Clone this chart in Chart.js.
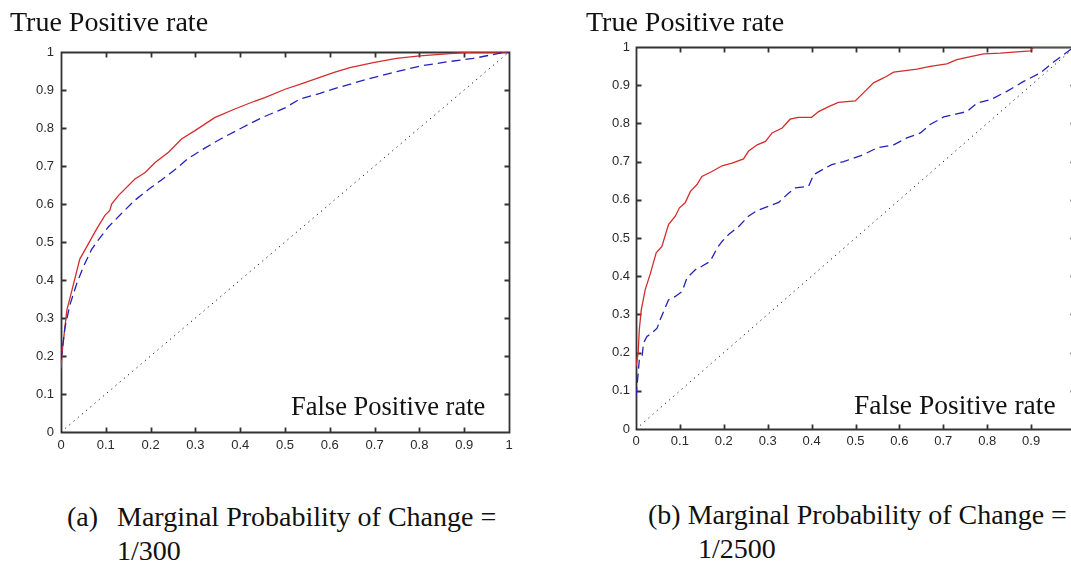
<!DOCTYPE html>
<html>
<head>
<meta charset="utf-8">
<script src="https://cdn.jsdelivr.net/npm/chart.js@4.4.1/dist/chart.umd.min.js"></script>
<style>
  html, body { margin: 0; padding: 0; background: #fff; }
  body { width: 1071px; height: 567px; overflow: hidden; position: relative; }
  canvas { position: absolute; top: 0; }
  #rocA { left: 0; }
  #rocB { left: 560px; }
  .lbl {
    position: absolute; white-space: pre; line-height: 1;
    font-family: "Liberation Serif", "DejaVu Serif", serif; color: #111;
  }
</style>
</head>
<body>
<canvas id="rocA" width="540" height="470"></canvas>
<canvas id="rocB" width="560" height="470"></canvas>

<div class="lbl" style="left:10px; top:8px; font-size:28px;">True Positive rate</div>
<div class="lbl" style="left:586px; top:7.5px; font-size:28px;">True Positive rate</div>
<div class="lbl" style="left:291px; top:393px; font-size:26.5px;">False Positive rate</div>
<div class="lbl" style="left:854px; top:391px; font-size:27.5px;">False Positive rate</div>

<div class="lbl" style="left:67px; top:502.5px; font-size:28px;">(a)</div>
<div class="lbl" style="left:117px; top:502.5px; font-size:28px;">Marginal Probability of Change =</div>
<div class="lbl" style="left:117px; top:536.5px; font-size:28px;">1/300</div>

<div class="lbl" style="left:648px; top:500.5px; font-size:28px;">(b) Marginal Probability of Change =</div>
<div class="lbl" style="left:698px; top:534.5px; font-size:28px;">1/2500</div>

<script>
// Axis tick positions shared by both panels
const tickValues = [0, 0.1, 0.2, 0.3, 0.4, 0.5, 0.6, 0.7, 0.8, 0.9, 1];

// Chance line
const chanceFpr = [0, 1];
const chanceTpr = [0, 1];

// Panel (a): marginal probability 1/300
const redA_fpr = [0, 0.003, 0.013, 0.027, 0.042, 0.061, 0.080, 0.098, 0.109, 0.113, 0.128, 0.165, 0.188, 0.21, 0.24, 0.269, 0.299, 0.344, 0.388, 0.433, 0.455, 0.5, 0.533, 0.608, 0.645, 0.697, 0.749, 0.801, 0.846, 0.883, 0.917, 1];
const redA_tpr = [0.167, 0.215, 0.32, 0.385, 0.455, 0.495, 0.535, 0.57, 0.583, 0.60, 0.622, 0.666, 0.683, 0.709, 0.736, 0.771, 0.793, 0.828, 0.85, 0.871, 0.88, 0.902, 0.915, 0.946, 0.959, 0.972, 0.983, 0.99, 0.994, 0.997, 1.0, 1.0];
const blueA_fpr = [0, 0.009, 0.02, 0.035, 0.05, 0.068, 0.083, 0.106, 0.135, 0.165, 0.195, 0.225, 0.254, 0.284, 0.321, 0.359, 0.403, 0.448, 0.5, 0.533, 0.578, 0.623, 0.682, 0.742, 0.801, 0.861, 0.92, 0.98, 1];
const blueA_tpr = [0.19, 0.276, 0.335, 0.39, 0.435, 0.48, 0.505, 0.54, 0.575, 0.61, 0.638, 0.664, 0.69, 0.72, 0.747, 0.773, 0.8, 0.827, 0.853, 0.876, 0.891, 0.908, 0.928, 0.946, 0.963, 0.974, 0.983, 0.997, 1];

// Panel (b): marginal probability 1/2500
const redB_fpr = [0, 0.005, 0.0075, 0.012, 0.021, 0.033, 0.046, 0.059, 0.074, 0.0895, 0.099, 0.112, 0.124, 0.139, 0.15, 0.173, 0.196, 0.219, 0.245, 0.256, 0.276, 0.295, 0.31, 0.333, 0.351, 0.37, 0.40, 0.416, 0.439, 0.461, 0.4995, 0.518, 0.541, 0.564, 0.587, 0.64, 0.67, 0.708, 0.731, 0.762, 0.792, 0.83, 0.898, 0.906, 1];
const redB_tpr = [0.164, 0.2, 0.26, 0.312, 0.365, 0.408, 0.461, 0.478, 0.535, 0.557, 0.579, 0.592, 0.622, 0.64, 0.661, 0.674, 0.689, 0.696, 0.707, 0.727, 0.744, 0.753, 0.775, 0.788, 0.811, 0.816, 0.816, 0.831, 0.844, 0.855, 0.859, 0.88, 0.906, 0.919, 0.934, 0.942, 0.949, 0.956, 0.967, 0.975, 0.982, 0.984, 0.99, 1.0, 1.0];
const blueB_fpr = [0, 0.005, 0.0075, 0.014, 0.017, 0.025, 0.036, 0.048, 0.055, 0.063, 0.074, 0.0895, 0.105, 0.116, 0.135, 0.15, 0.169, 0.185, 0.196, 0.211, 0.234, 0.256, 0.276, 0.302, 0.325, 0.348, 0.363, 0.393, 0.405, 0.431, 0.446, 0.473, 0.518, 0.549, 0.587, 0.617, 0.648, 0.67, 0.701, 0.731, 0.754, 0.777, 0.807, 0.845, 0.883, 0.921, 0.948, 0.974, 0.989, 1];
const blueB_tpr = [0.085, 0.147, 0.181, 0.19, 0.225, 0.242, 0.251, 0.264, 0.286, 0.308, 0.338, 0.347, 0.36, 0.395, 0.417, 0.426, 0.439, 0.474, 0.491, 0.509, 0.53, 0.557, 0.572, 0.583, 0.593, 0.618, 0.631, 0.635, 0.666, 0.683, 0.692, 0.70, 0.718, 0.736, 0.744, 0.762, 0.775, 0.797, 0.817, 0.825, 0.831, 0.853, 0.862, 0.884, 0.91, 0.932, 0.958, 0.98, 0.993, 1];

const pairs = (xs, ys) => xs.map((x, i) => ({ x, y: ys[i] }));

// Box around the plot area with inward tick marks on all four sides
const frameTicks = {
  id: 'frameTicks',
  beforeDatasetsDraw(chart, args, opts) {
    const { ctx, chartArea: a, scales: { x, y } } = chart;
    const len = opts.length;
    const snap = v => Math.round(v) + 0.5;
    const L = snap(a.left), R = snap(a.right), T = snap(a.top), B = snap(a.bottom);
    ctx.save();
    ctx.strokeStyle = opts.color;
    ctx.lineWidth = opts.width;
    ctx.beginPath();
    ctx.rect(L, T, R - L, B - T);
    x.ticks.forEach(t => {
      const px = snap(x.getPixelForValue(t.value));
      ctx.moveTo(px, B); ctx.lineTo(px, B - len);
      ctx.moveTo(px, T); ctx.lineTo(px, T + len);
    });
    y.ticks.forEach(t => {
      const py = snap(y.getPixelForValue(t.value));
      ctx.moveTo(L, py); ctx.lineTo(L + len, py);
      ctx.moveTo(R, py); ctx.lineTo(R - len, py);
    });
    ctx.stroke();
    ctx.restore();
  }
};

const tickFont = { family: '"Liberation Sans", Arial, sans-serif', size: 13 };
const fmt = v => String(Number(v.toFixed(1)));

function axis(padding, fitSize, isX) {
  return {
    type: 'linear', min: 0, max: 1,
    afterBuildTicks: s => { s.ticks = tickValues.map(v => ({ value: v })); },
    grid: { display: false, drawTicks: false },
    border: { display: false },
    ticks: { padding, font: tickFont, color: '#2a2a2a', callback: fmt, maxRotation: 0, autoSkip: false },
    afterFit: s => { if (isX) s.height = fitSize; else s.width = fitSize; }
  };
}

function rocChart(id, red, blue, geom) {
  return new Chart(document.getElementById(id), {
    type: 'scatter',
    data: {
      datasets: [
        { data: pairs(chanceFpr, chanceTpr), showLine: true, borderColor: '#111', borderWidth: 1, borderDash: [1.2, 4.3], pointRadius: 0 },
        { data: blue, showLine: true, borderColor: 'rgb(35,35,185)', borderWidth: 1.3, borderDash: [9, 5], pointRadius: 0 },
        { data: red, showLine: true, borderColor: 'rgb(212,45,45)', borderWidth: 1.3, pointRadius: 0 }
      ]
    },
    options: {
      responsive: false, animation: false, events: [],
      layout: { padding: { top: geom.top, right: geom.right, left: 0, bottom: 0 } },
      elements: { line: { tension: 0 }, point: { radius: 0 } },
      plugins: {
        legend: { display: false }, tooltip: { enabled: false },
        frameTicks: { color: '#333', width: 1.8, length: 5 }
      },
      scales: {
        x: axis(geom.xPad, geom.xH, true),
        y: axis(geom.yPad, geom.yW, false)
      }
    },
    plugins: [frameTicks]
  });
}

rocChart('rocA', pairs(redA_fpr, redA_tpr), pairs(blueA_fpr, blueA_tpr),
  { top: 52, right: 31, xH: 38, yW: 61, xPad: 6, yPad: 7 });
rocChart('rocB', pairs(redB_fpr, redB_tpr), pairs(blueB_fpr, blueB_tpr),
  { top: 47, right: 45, xH: 41, yW: 76, xPad: 5, yPad: 6 });
</script>
</body>
</html>
